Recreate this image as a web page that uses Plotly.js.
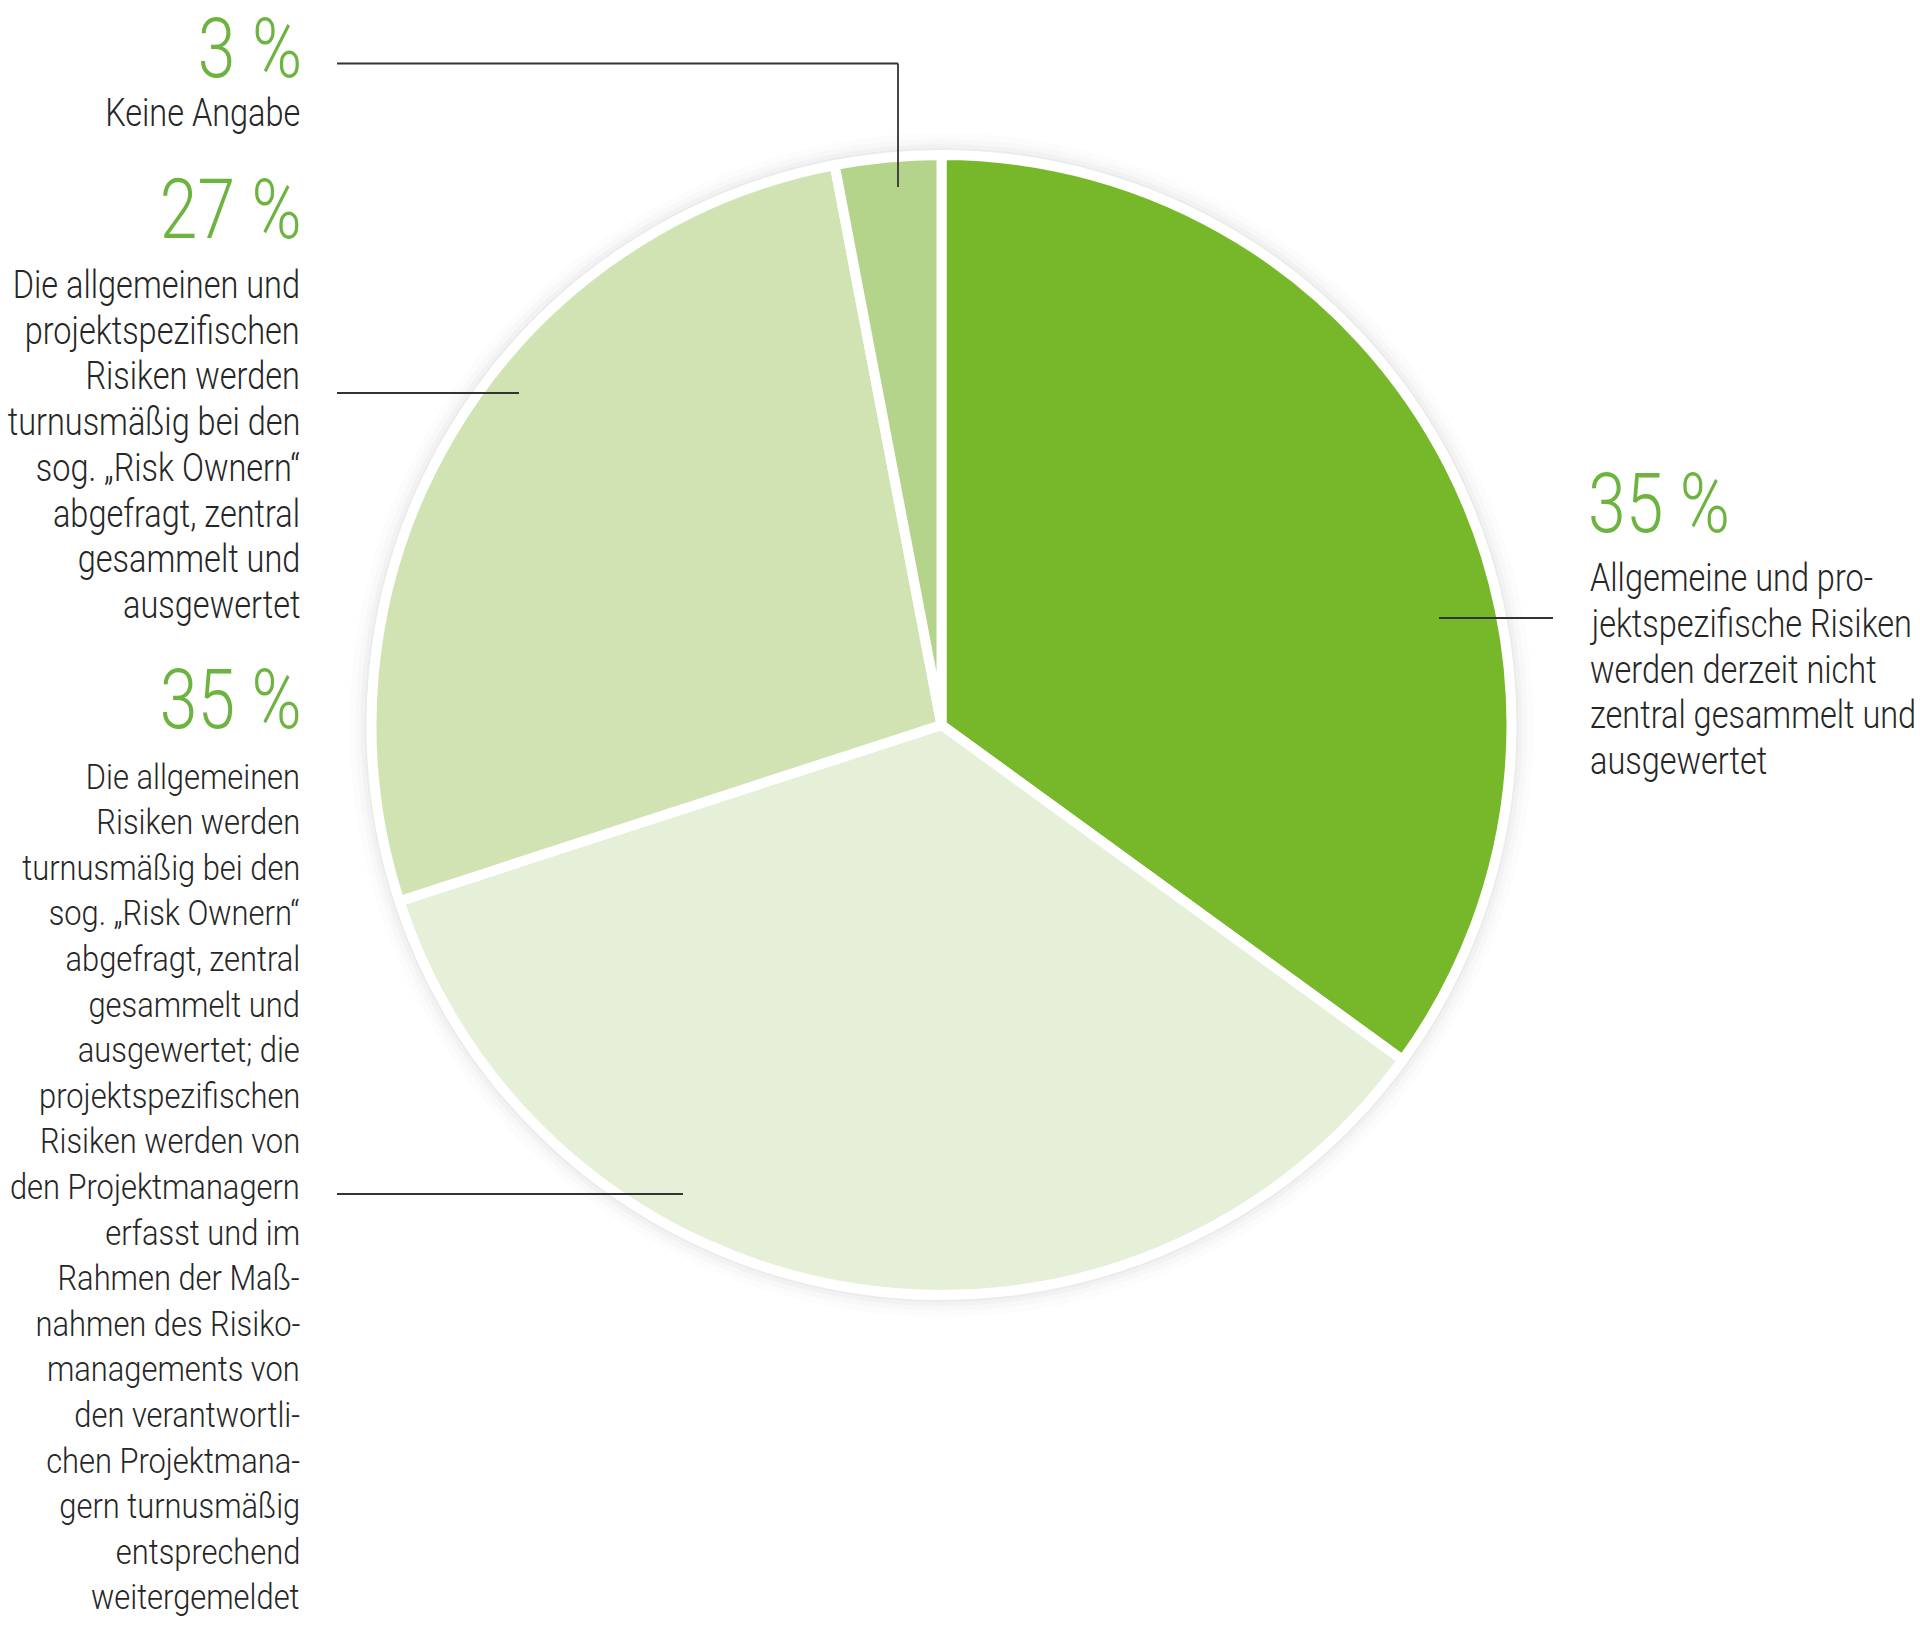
<!DOCTYPE html>
<html>
<head>
<meta charset="utf-8">
<script src="https://cdn.plot.ly/plotly-3.0.1.min.js"></script>
<style>
  html, body { margin: 0; padding: 0; background: #ffffff; }
  #chart { width: 1920px; height: 1635px; }
</style>
</head>
<body>
<div id="chart"></div>
<script>
// ---- Data ----
const categories = [
  "Allgemeine und projektspezifische Risiken werden derzeit nicht zentral gesammelt und ausgewertet",
  "Die allgemeinen Risiken werden turnusmäßig bei den Risk Ownern abgefragt; projektspezifische Risiken von den Projektmanagern",
  "Die allgemeinen und projektspezifischen Risiken werden turnusmäßig bei den Risk Ownern abgefragt",
  "Keine Angabe"
];
const values = [35, 35, 27, 3];
const sliceColors = ["#77b82a", "#e6f0d9", "#d2e3b3", "#b4d48b"];

const descLines = [
  ["Allgemeine und pro-", "jektspezifische Risiken", "werden derzeit nicht", "zentral gesammelt und", "ausgewertet"],
  ["Die allgemeinen", "Risiken werden", "turnusmäßig bei den", "sog. „Risk Ownern“", "abgefragt, zentral", "gesammelt und",
   "ausgewertet; die", "projektspezifischen", "Risiken werden von", "den Projektmanagern", "erfasst und im",
   "Rahmen der Maß-", "nahmen des Risiko-", "managements von", "den verantwortli-", "chen Projektmana-",
   "gern turnusmäßig", "entsprechend", "weitergemeldet"],
  ["Die allgemeinen und", "projektspezifischen", "Risiken werden", "turnusmäßig bei den", "sog. „Risk Ownern“",
   "abgefragt, zentral", "gesammelt und", "ausgewertet"],
  ["Keine Angabe"]
];

// ---- Layout helpers (pixel positions) ----
const W = 1920, H = 1635;
const CX = 941.5, CY = 725, R = 570;
const px = x => x / W;
const py = y => 1 - y / H;

const FONT = "Roboto, 'Open Sans', sans-serif";
const GREEN = "#6db33f";
const DARK = "#262626";

// text style groups: font size and the pixel width one sample line should reach
const styles = {
  pct:    {size: 84, weight: 300, sample: "35 %", target: 142},
  narrow: {size: 38, weight: 300, sample: "jektspezifische Risiken", target: 322},
  wide:   {size: 35, weight: 300, sample: "den Projektmanagern", target: 290}
};

const blocks = [
  {anchor: "left",  x: 1588, pctY: 503, lineY: 578, step: 45.8, style: "narrow"},
  {anchor: "right", x: 302,  pctY: 700, lineY: 777, step: 45.6, style: "wide"},
  {anchor: "right", x: 302,  pctY: 209, lineY: 285, step: 45.7, style: "narrow"},
  {anchor: "right", x: 302,  pctY: 49,  lineY: 113, step: 45.7, style: "narrow"}
];

const leaders = [
  [[1439, 618], [1553, 618]],
  [[337, 1194], [683, 1194]],
  [[337, 393], [519, 393]],
  [[337, 63.5], [898, 63.5], [898, 187]]
];

const annotations = [];
const annStyle = [];
function addText(txt, x, y, anchor, styleKey, color) {
  const st = styles[styleKey];
  annotations.push({
    xref: "paper", yref: "paper", x: px(x), y: py(y),
    xanchor: anchor, yanchor: "middle", showarrow: false, align: anchor,
    text: txt, font: {family: FONT, size: st.size, weight: st.weight, color: color}
  });
  annStyle.push({key: styleKey, anchor: anchor});
}
values.forEach((v, i) => {
  const b = blocks[i];
  addText(v + " %", b.x + (b.anchor === "right" ? 2 : -2), b.pctY, b.anchor, "pct", GREEN);
  descLines[i].forEach((ln, k) => addText(ln, b.x, b.lineY + k * b.step, b.anchor, b.style, DARK));
});

const shapes = [];
[[592, "rgba(0,0,0,0.012)"], [586, "rgba(0,0,0,0.016)"], [581, "rgba(0,0,0,0.022)"], [577, "rgba(0,0,0,0.028)"], [574, "#ffffff"]]
  .forEach(([r, c]) => {
    shapes.push({type: "circle", layer: "below", xref: "paper", yref: "paper",
      x0: px(CX - r), x1: px(CX + r), y0: py(CY + r), y1: py(CY - r),
      fillcolor: c, line: {width: 0}});
  });
leaders.forEach(pts => {
  for (let k = 0; k < pts.length - 1; k++) {
    shapes.push({type: "line", layer: "above", xref: "paper", yref: "paper",
      x0: px(pts[k][0]), y0: py(pts[k][1]), x1: px(pts[k + 1][0]), y1: py(pts[k + 1][1]),
      line: {color: "#333333", width: 1.8}});
  }
});

const trace = {
  type: "pie",
  labels: categories,
  values: values,
  sort: false,
  direction: "clockwise",
  rotation: 0,
  marker: {colors: sliceColors, line: {color: "#ffffff", width: 10}},
  textinfo: "none",
  hoverinfo: "skip",
  showlegend: false,
  domain: {x: [px(CX - R), px(CX + R)], y: [py(CY + R), py(CY - R)]}
};

const layout = {
  width: W, height: H,
  margin: {l: 0, r: 0, t: 0, b: 0, pad: 0},
  paper_bgcolor: "#ffffff",
  plot_bgcolor: "#ffffff",
  showlegend: false,
  shapes: shapes,
  annotations: annotations
};

Plotly.newPlot("chart", [trace], layout, {displayModeBar: false, staticPlot: true}).then(gd => {
  // condense the type horizontally (the original uses a condensed face)
  const texts = [];
  gd.querySelectorAll("g.annotation").forEach(g => {
    const idx = +g.getAttribute("data-index");
    const t = g.querySelector("text.annotation-text");
    if (t && annStyle[idx]) texts.push({t, st: annStyle[idx], txt: annotations[idx].text});
  });
  const factor = {};
  Object.keys(styles).forEach(k => {
    const s = texts.find(o => o.st.key === k && o.txt === styles[k].sample);
    factor[k] = s ? Math.min(1.2, styles[k].target / s.t.getBBox().width) : 1;
  });
  texts.forEach(({t, st}) => {
    const bb = t.getBBox();
    const ax = st.anchor === "right" ? bb.x + bb.width : bb.x;
    const f = factor[st.key];
    const prev = t.getAttribute("transform") || "";
    t.setAttribute("transform", prev + ` translate(${ax},0) scale(${f},1) translate(${-ax},0)`);
  });
});
</script>
</body>
</html>
